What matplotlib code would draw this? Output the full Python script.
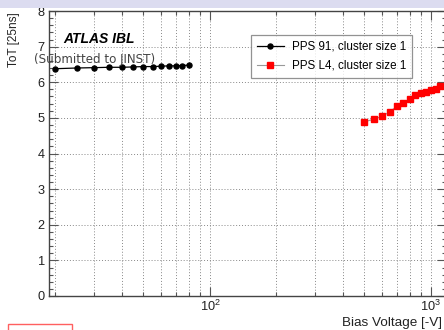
import numpy as np
import matplotlib
matplotlib.use("Agg")
import matplotlib.pyplot as plt
from matplotlib.ticker import LogLocator, MultipleLocator, NullFormatter
from matplotlib.patches import Rectangle

plt.rcParams["font.family"] = ["Liberation Sans", "DejaVu Sans"]
plt.rcParams["mathtext.fontset"] = "custom"
plt.rcParams["mathtext.rm"] = "Liberation Sans"

# bias voltage [-V] and ToT [25ns]
pps91_v = [20, 25, 30, 35, 40, 45, 50, 55, 60, 65, 70, 75, 80]
pps91_tot = [6.38, 6.40, 6.41, 6.42, 6.42, 6.43, 6.44, 6.44, 6.45, 6.46, 6.46, 6.47, 6.48]
ppsl4_v = [500, 550, 600, 650, 700, 750, 800, 850, 900, 950, 1000, 1050, 1100]
ppsl4_tot = [4.89, 4.96, 5.04, 5.17, 5.32, 5.43, 5.53, 5.63, 5.69, 5.72, 5.77, 5.81, 5.90]

W, H = 444, 330
fig = plt.figure(figsize=(W / 100, H / 100), dpi=100)

# axes placed in pixel terms (left 49, right 446, top 11, bottom 296)
ax = fig.add_axes([49 / W, (H - 296) / H, 397 / W, 285 / H])

ax.plot(pps91_v, pps91_tot, color="black", lw=0.9, marker="o", ms=3.6,
        label="PPS 91, cluster size 1", zorder=3)
ax.plot(ppsl4_v, ppsl4_tot, color="#999999", lw=0.8, marker="s", ms=4.3,
        mfc="red", mec="red", label="PPS L4, cluster size 1", zorder=3)

ax.set_xscale("log")
ax.set_xlim(18.7, 1170)
ax.set_ylim(0, 8)

ax.xaxis.set_major_locator(LogLocator(base=10, numticks=10))
ax.xaxis.set_minor_locator(LogLocator(base=10, subs=np.arange(2, 10), numticks=20))
ax.xaxis.set_minor_formatter(NullFormatter())
ax.yaxis.set_major_locator(MultipleLocator(1))
ax.yaxis.set_minor_locator(MultipleLocator(0.2))

ax.tick_params(which="both", direction="in", top=True, right=True,
               color="#555555", labelsize=9.2, labelcolor="#222222")
ax.tick_params(which="major", length=6.5, width=0.8)
ax.tick_params(which="minor", length=3.2, width=0.8)
ax.tick_params(axis="y", pad=3)
ax.tick_params(axis="x", pad=2)

ax.grid(True, which="major", axis="both", color="#888888", ls=(0, (1, 2)), lw=0.7)
ax.grid(True, which="minor", axis="x", color="#888888", ls=(0, (1, 2)), lw=0.7)
for s in ax.spines.values():
    s.set_color("#444444")
    s.set_linewidth(1.0)

leg = ax.legend(loc="upper left", bbox_to_anchor=(251 / W, 1 - 35 / H),
                bbox_transform=fig.transFigure, fontsize=8.4, frameon=True,
                fancybox=False, edgecolor="#777777", handlelength=2.3,
                handletextpad=0.7, borderpad=0.5, labelspacing=0.6,
                borderaxespad=0)
leg.get_frame().set_linewidth(0.9)

fig.text(63 / W, 1 - 43 / H, "ATLAS IBL", fontsize=10, fontweight="bold",
         fontstyle="italic", ha="left", va="baseline")
fig.text(34 / W, 1 - 60 / H, "(Submitted to JINST)", fontsize=8.6,
         family="DejaVu Sans", color="#444444", ha="left", va="center")

fig.text(14 / W, 1 - 12 / H, "ToT [25ns]", rotation=90, fontsize=8.5,
         color="#222222", ha="center", va="top")
fig.text(442 / W, 1 - 326 / H, "Bias Voltage [-V]", fontsize=9.7,
         color="#222222", ha="right", va="baseline")

# lavender strip on top and red box fragment at bottom-left of the screenshot
fig.patches.append(Rectangle((0, 1 - 8 / H), 1, 8 / H, transform=fig.transFigure,
                             facecolor="#dcdcf0", edgecolor="none", zorder=0))
fig.patches.append(Rectangle((8 / W, -0.01), 64 / W, 0.01 + 6 / H,
                             transform=fig.transFigure, facecolor="none",
                             edgecolor="#ff6060", lw=1.0))

fig.savefig("out.png", dpi=100)
